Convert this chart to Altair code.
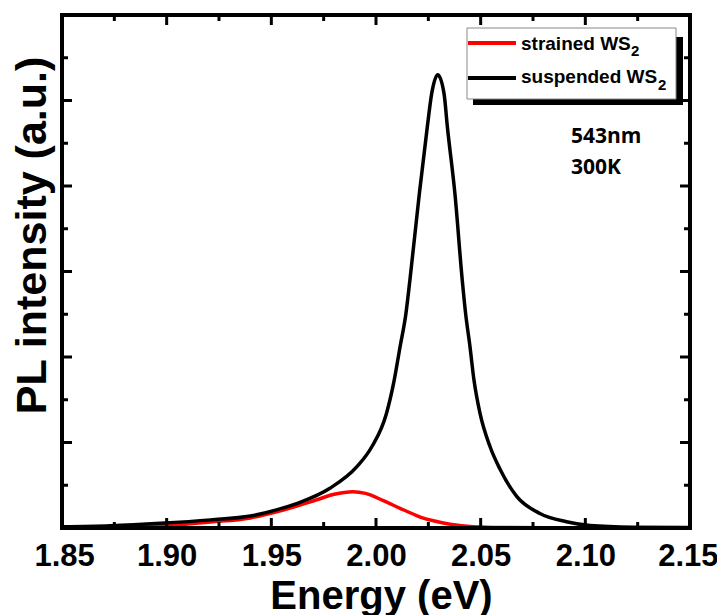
import altair as alt
import pandas as pd

# ---- data ----
susp_E = [1.850, 1.873, 1.897, 1.921, 1.940, 1.9557, 1.9637, 1.978, 1.991, 1.998,
          2.005, 2.0087, 2.0115, 2.0143, 2.0162, 2.0207, 2.0245, 2.0266, 2.0295,
          2.0325, 2.0341, 2.0377, 2.0412, 2.0428, 2.0449, 2.0468, 2.0497, 2.0545,
          2.0592, 2.0672, 2.0783, 2.091, 2.1022, 2.123, 2.150]
susp_I = [0.015, 0.027, 0.055, 0.095, 0.140, 0.235, 0.300, 0.465, 0.720, 0.950,
          1.340, 1.730, 2.120, 2.510, 2.900, 3.910, 4.690, 5.080, 5.300,
          5.080, 4.690, 3.910, 2.900, 2.510, 2.120, 1.730, 1.340, 0.950,
          0.690, 0.370, 0.170, 0.074, 0.030, 0.010, 0.005]

str_E = [1.850, 1.880, 1.897, 1.921, 1.940, 1.9557, 1.9717, 1.980, 1.989, 1.995,
         2.0035, 2.0115, 2.0194, 2.0226, 2.0274, 2.0354, 2.0465, 2.060, 2.100, 2.150]
str_I = [0.000, 0.005, 0.023, 0.070, 0.118, 0.210, 0.330, 0.395, 0.425, 0.405,
         0.320, 0.230, 0.145, 0.115, 0.085, 0.045, 0.015, 0.005, 0.000, 0.000]

x_major = [1.85, 1.90, 1.95, 2.00, 2.05, 2.10, 2.15]
x_minor = [1.875, 1.925, 1.975, 2.025, 2.075, 2.125]
y_major = [0, 1, 2, 3, 4, 5, 6]
y_minor = [0.5, 1.5, 2.5, 3.5, 4.5, 5.5]

series_names = ["strained WS", "suspended WS"]
series_colors = ["#ff0000", "#000000"]

W, H = 628, 513
FONT = "Liberation Sans"

df_str = pd.DataFrame({"E": str_E, "v": str_I})
df_susp = pd.DataFrame({"E": susp_E, "v": susp_I})

xscale = alt.Scale(domain=[1.85, 2.15], nice=False, zero=False)
yscale = alt.Scale(domain=[0, 6], nice=False, zero=True)

xaxis = alt.Axis(values=x_major, format=".2f", ticks=False, tickSize=0, domain=False,
                 grid=False, labelFlush=True, labelFlushOffset=28, labelOverlap=False,
                 labelFont=FONT, labelFontSize=31, labelFontWeight="bold",
                 labelColor="black", labelBaseline="alphabetic", labelPadding=37,
                 title="Energy (eV)", titleFont=FONT, titleFontSize=40,
                 titleFontWeight="bold", titleColor="black",
                 titleX=319, titleY=80, titleBaseline="alphabetic", titleAnchor="middle")
yaxis = alt.Axis(labels=False, ticks=False, tickSize=0, domain=False, grid=False,
                 title="PL intensity (a.u.)", titleFont=FONT, titleFontSize=43,
                 titleFontWeight="bold", titleColor="black", titleAngle=270,
                 titleX=-17, titleY=220, titleBaseline="alphabetic", titleAlign="center")

x_enc = alt.X("E:Q", scale=xscale, axis=xaxis)
y_enc = alt.Y("v:Q", scale=yscale, axis=yaxis)

red_line = alt.Chart(df_str).mark_line(color=series_colors[0], strokeWidth=3.5,
                                       interpolate="monotone").encode(x=x_enc, y=y_enc)
black_line = alt.Chart(df_susp).mark_line(color=series_colors[1], strokeWidth=3.5,
                                          interpolate="monotone").encode(x=x_enc, y=y_enc)

# inward ticks
dxM = pd.DataFrame({"E": x_major})
dxm = pd.DataFrame({"E": x_minor})
dyM = pd.DataFrame({"v": y_major})
dym = pd.DataFrame({"v": y_minor})

def xticks(df, length):
    bot = alt.Chart(df).mark_rule(color="black", strokeWidth=3).encode(
        x=x_enc, y=alt.value(H), y2=alt.value(H - length))
    top = alt.Chart(df).mark_rule(color="black", strokeWidth=3).encode(
        x=x_enc, y=alt.value(0), y2=alt.value(length))
    return [bot, top]

def yticks(df, length):
    left = alt.Chart(df).mark_rule(color="black", strokeWidth=3).encode(
        y=y_enc, x=alt.value(0), x2=alt.value(length))
    right = alt.Chart(df).mark_rule(color="black", strokeWidth=3).encode(
        y=y_enc, x=alt.value(W), x2=alt.value(W - length))
    return [left, right]

ticks = xticks(dxM, 10) + xticks(dxm, 6) + yticks(dyM, 10) + yticks(dym, 6)

# frame
one = pd.DataFrame({"a": [0]})
frame = alt.Chart(one).mark_rect(fill=None, stroke="black", strokeWidth=4).encode(
    x=alt.value(0), x2=alt.value(W), y=alt.value(0), y2=alt.value(H))

# legend (manual)
shadow = alt.Chart(one).mark_rect(fill="black").encode(
    x=alt.value(411), x2=alt.value(621), y=alt.value(22), y2=alt.value(90))
box = alt.Chart(one).mark_rect(fill="white", stroke="#888888", strokeWidth=1).encode(
    x=alt.value(405), x2=alt.value(614), y=alt.value(13), y2=alt.value(84))
leg_red = alt.Chart(one).mark_rule(color=series_colors[0], strokeWidth=4).encode(
    x=alt.value(406), x2=alt.value(454), y=alt.value(28))
leg_blk = alt.Chart(one).mark_rule(color=series_colors[1], strokeWidth=4).encode(
    x=alt.value(406), x2=alt.value(454), y=alt.value(63))
t1 = alt.Chart(one).mark_text(text=series_names[0], font=FONT, fontSize=19, fontWeight="bold",
                              align="left", baseline="alphabetic", color="black").encode(
    x=alt.value(459), y=alt.value(35))
t1s = alt.Chart(one).mark_text(text="2", font=FONT, fontSize=15, fontWeight="bold",
                               align="left", baseline="alphabetic", color="black").encode(
    x=alt.value(569), y=alt.value(41))
t2 = alt.Chart(one).mark_text(text=series_names[1], font=FONT, fontSize=19, fontWeight="bold",
                              align="left", baseline="alphabetic", color="black").encode(
    x=alt.value(459), y=alt.value(68))
t2s = alt.Chart(one).mark_text(text="2", font=FONT, fontSize=15, fontWeight="bold",
                               align="left", baseline="alphabetic", color="black").encode(
    x=alt.value(596), y=alt.value(75))

ann1 = alt.Chart(one).mark_text(text="543nm", font="Open Sans", fontSize=21, fontWeight="bold",
                                align="left", baseline="alphabetic", color="black").encode(
    x=alt.value(509), y=alt.value(128))
ann2 = alt.Chart(one).mark_text(text="300K", font="Open Sans", fontSize=21, fontWeight="bold",
                                align="left", baseline="alphabetic", color="black").encode(
    x=alt.value(509), y=alt.value(159))

chart = alt.layer(
    red_line, black_line, *ticks, frame, shadow, box, leg_red, leg_blk, t1, t1s, t2, t2s,
    ann1, ann2
).properties(
    width=W, height=H,
    padding={"left": 54, "top": 7, "right": 27, "bottom": 92},
    autosize="none",
).configure_view(stroke=None).configure(background="white")

chart.save("out.html", embed_options={"renderer": "svg", "actions": False})
